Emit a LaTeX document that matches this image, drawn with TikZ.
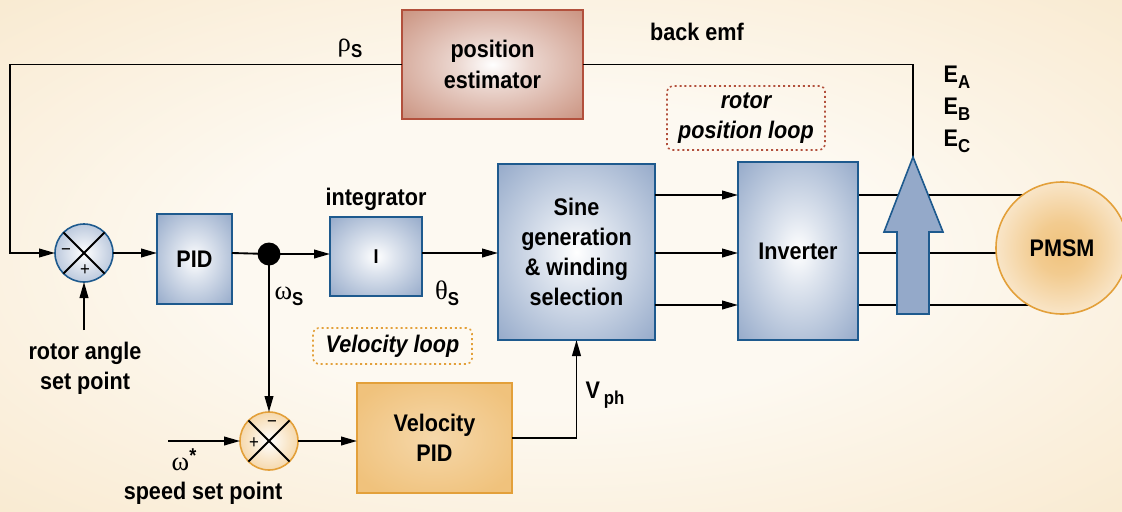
\documentclass[tikz,border=0pt]{standalone}
\usepackage{fontspec}
\setmainfont{Liberation Sans}[FakeStretch=0.9]
\newfontfamily\grk{Liberation Serif}
\usetikzlibrary{arrows.meta}
\definecolor{bfill}{HTML}{94A9C9}
\definecolor{bbord}{HTML}{1E5A8E}
\definecolor{rfill}{HTML}{C78C78}
\definecolor{rbord}{HTML}{B2503C}
\definecolor{ofill}{HTML}{F0C27C}
\definecolor{obord}{HTML}{E3A03A}
\definecolor{bgin}{HTML}{FDF9F1}
\definecolor{bgout}{HTML}{F4D9AC}
\pgfdeclareradialshading{bgsh}{\pgfpoint{0bp}{0bp}}{color(0bp)=(bgin); color(15bp)=(bgin); color(60bp)=(bgout); color(75bp)=(bgout)}
\pgfdeclareradialshading{bluebox}{\pgfpoint{0bp}{0bp}}{color(0bp)=(white); color(10bp)=(white!70!bfill); color(36bp)=(bfill); color(50bp)=(bfill)}
\pgfdeclareradialshading{redbox}{\pgfpoint{0bp}{0bp}}{color(0bp)=(white); color(10bp)=(white!65!rfill); color(38bp)=(rfill); color(50bp)=(rfill)}
\pgfdeclareradialshading{orbox}{\pgfpoint{0bp}{0bp}}{color(0bp)=(white!35!ofill); color(30bp)=(ofill); color(50bp)=(ofill)}
\pgfdeclareradialshading{bluesum}{\pgfpoint{0bp}{0bp}}{color(0bp)=(white); color(40bp)=(bfill); color(50bp)=(bfill)}
\pgfdeclareradialshading{orsum}{\pgfpoint{0bp}{0bp}}{color(0bp)=(white); color(40bp)=(ofill); color(50bp)=(ofill)}
\pgfdeclareradialshading{motor}{\pgfpoint{0bp}{0bp}}{color(0bp)=(ofill); color(10bp)=(ofill!85!white); color(40bp)=(white); color(50bp)=(white)}
\pgfdeclarelayer{bg}
\pgfdeclarelayer{wires}
\pgfsetlayers{bg,wires,main}
\tikzset{
  every node/.style={font=\bfseries\fontsize{18}{22.5}\selectfont, inner sep=0pt, outer sep=0pt},
  blk/.style={draw=bbord, line width=1.2pt, shading=bluebox, rectangle},
  sumb/.style={circle, draw=bbord, line width=1.2pt, minimum size=43.5pt, shading=bluesum},
  sumo/.style={circle, draw=obord, line width=1.2pt, minimum size=43.5pt, shading=orsum},
  sign/.style={font=\mdseries\fontsize{14}{14}\selectfont},
  wire/.style={line width=1.4pt},
  arr/.style={line width=1.4pt, -{Triangle[length=12pt,width=6.5pt]}},
  loopbox/.style={rounded corners=4pt, line width=1.2pt, dash pattern=on 1.5pt off 2.2pt, align=center, font=\bfseries\itshape\fontsize{18}{23}\selectfont},
  lbl/.style={align=center}
}
\newcommand{\sub}[1]{\raisebox{-4.5pt}{\fontsize{14}{14}\selectfont #1}}
\newcommand{\gk}[1]{{\mdseries\grk\fontsize{20}{20}\selectfont #1}}
\begin{document}
\begin{tikzpicture}[x=0.75pt,y=-0.75pt]
\useasboundingbox (0,0) rectangle (1122,511);
\begin{pgfonlayer}{bg}
\shade[shading=bgsh] (0,0) rectangle (1122,511);
\end{pgfonlayer}
% blocks
\node[sumb] (sum1) at (84,253) {};
\draw[line width=1.4pt] (sum1.45) -- (sum1.225) (sum1.135) -- (sum1.315);
\node[sign] (s1m) at (66,252) {−};
\node[sign] (s1p) at (85,270) {+};
\node[blk, minimum width=56.25pt, minimum height=67.5pt] (pid) at (194.5,259) {PID};
\node[circle, fill=black, minimum size=17.25pt] (dot) at (269,254) {};
\node[blk, minimum width=69pt, minimum height=59.25pt] (integ) at (376,256.5) {\fontsize{15}{15}\selectfont I};
\node[lbl] (integlbl) at (376,199) {integrator};
\node[blk, minimum width=117.75pt, minimum height=132pt, align=center] (sine) at (576.5,252) {Sine\\generation\\\& winding\\selection};
\node[blk, minimum width=90pt, minimum height=133.5pt] (inv) at (798,251) {Inverter};
\node[draw=rbord, line width=1.2pt, shading=redbox, minimum width=135.75pt, minimum height=81.75pt, align=center, font=\bfseries\fontsize{18}{23}\selectfont] (est) at (492.5,64.5) {position\\estimator};
\node[draw=obord, line width=1.2pt, shading=orbox, minimum width=116.25pt, minimum height=82.5pt, align=center] (vpid) at (434.5,438) {Velocity\\PID};
\node[sumo] (sum2) at (269,441) {};
\draw[line width=1.4pt] (sum2.45) -- (sum2.225) (sum2.135) -- (sum2.315);
\node[sign] (s2m) at (272,424) {−};
\node[sign] (s2p) at (254,443) {+};
\node[circle, draw=obord, line width=1.2pt, shading=motor, minimum size=99pt] (pmsm) at (1062,248) {PMSM};
% loop labels
\node[loopbox, draw=rbord, minimum width=118.5pt, minimum height=48pt] (rpl) at (746,118) {rotor\\position loop};
\node[loopbox, draw=obord, minimum width=119.25pt, minimum height=27pt] (vl) at (392.5,346) {Velocity loop};
% coordinates
\coordinate (y1) at (0,195);
\coordinate (y2) at (0,253);
\coordinate (y3) at (0,305);
\coordinate (fbc) at (10,253);
\coordinate (tip) at (913,157);
\coordinate (rasp) at (84,330);
\coordinate (wstar) at (168,441);
% connectors
\draw[arr] (sum1.east) -- (sum1.east -| pid.west);
\draw[wire] (pid.east |- sum1) -- (dot.center);
\draw[arr] (dot.center) -- (dot.center -| integ.west);
\draw[arr] (integ.east |- y2) -- (sine.west |- y2);
\draw[arr] (dot.center) -- (sum2.north);
\draw[arr] (rasp) -- (sum1.south);
\draw[arr] (wstar) -- (sum2.west);
\draw[arr] (sum2.east) -- (sum2.east -| vpid.west);
\draw[arr] (vpid.east) -| (sine.south);
\draw[arr] (sine.east |- y1) -- (inv.west |- y1);
\draw[arr] (sine.east |- y2) -- (inv.west |- y2);
\draw[arr] (sine.east |- y3) -- (inv.west |- y3);
\begin{pgfonlayer}{wires}
\draw[wire] (inv.east |- y1) -- (pmsm.center |- y1);
\draw[wire] (inv.east |- y2) -- (pmsm.center |- y2);
\draw[wire] (inv.east |- y3) -- (pmsm.center |- y3);
\end{pgfonlayer}
\draw[wire] (tip) |- (est.east);
\draw[arr] (est.west) -| (fbc) -- (sum1.west);
% block arrow (back emf)
\draw[draw=bbord, fill=bfill, line width=1.2pt] (897,314) -- (929,314) -- (929,232) -- (943,232) -- (tip) -- (884,232) -- (897,232) -- cycle;
% labels
\node[lbl] (ra) at (85,353) {rotor angle};
\node[lbl] (sp) at (85,383) {set point};
\node[lbl] (ws) at (184,460) {\gk{ω}\raisebox{6pt}{\fontsize{15}{15}\selectfont *}};
\node[lbl] (ssp) at (203,493) {speed set point};
\node[lbl] (omegas) at (289,296) {\gk{ω}\sub{S}};
\node[lbl] (thetas) at (447,293) {\gk{θ}\sub{S}};
\node[lbl] (rhos) at (350,48) {\gk{ρ}\sub{S}};
\node[lbl] (bemf) at (697,32) {back emf};
\node[lbl] (ea) at (957,77) {E\sub{A}};
\node[lbl] (eb) at (957,109) {E\sub{B}};
\node[lbl] (ec) at (957,141) {E\sub{C}};
\node[lbl] (vph) at (605,395) {V\,\sub{ph}};
\end{tikzpicture}
\end{document}
